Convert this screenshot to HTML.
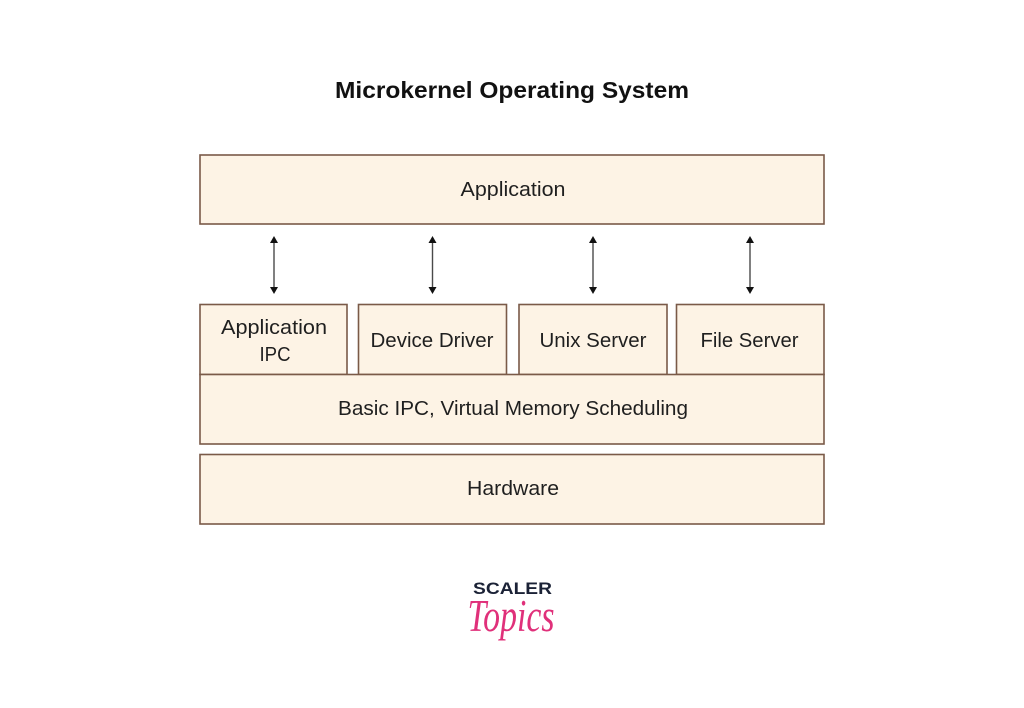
<!DOCTYPE html>
<html>
<head>
<meta charset="utf-8">
<style>
html,body{margin:0;padding:0;background:#ffffff;}
svg{display:block;}
text{font-family:"Liberation Sans",sans-serif;fill:#1f1f1f;}
</style>
</head>
<body>
<svg width="1024" height="708" viewBox="0 0 1024 708" xmlns="http://www.w3.org/2000/svg">
  <rect x="0" y="0" width="1024" height="708" fill="#ffffff"/>
  <text x="512" y="98" text-anchor="middle" font-size="23" font-weight="bold" textLength="354" lengthAdjust="spacingAndGlyphs" style="fill:#111">Microkernel Operating System</text>

  <g fill="#fdf3e5" stroke="#7a5a48" stroke-width="1.6">
    <rect x="200" y="155" width="624" height="69"/>
    <rect x="200" y="304.5" width="147" height="70"/>
    <rect x="358.5" y="304.5" width="148" height="70"/>
    <rect x="519" y="304.5" width="148" height="70"/>
    <rect x="676.5" y="304.5" width="147.5" height="70"/>
    <rect x="200" y="374.5" width="624" height="69.5"/>
    <rect x="200" y="454.5" width="624" height="69.5"/>
  </g>

  <g stroke="#4a4a4a" stroke-width="1.4">
    <line x1="274" y1="242" x2="274" y2="288"/>
    <line x1="432.5" y1="242" x2="432.5" y2="288"/>
    <line x1="593" y1="242" x2="593" y2="288"/>
    <line x1="750" y1="242" x2="750" y2="288"/>
  </g>
  <g fill="#111">
    <polygon points="274,236 270,243 278,243"/>
    <polygon points="274,294 270,287 278,287"/>
    <polygon points="432.5,236 428.5,243 436.5,243"/>
    <polygon points="432.5,294 428.5,287 436.5,287"/>
    <polygon points="593,236 589,243 597,243"/>
    <polygon points="593,294 589,287 597,287"/>
    <polygon points="750,236 746,243 754,243"/>
    <polygon points="750,294 746,287 754,287"/>
  </g>

  <g font-size="20" text-anchor="middle">
    <text x="513" y="196" textLength="105" lengthAdjust="spacingAndGlyphs">Application</text>
    <text x="274" y="334" textLength="106" lengthAdjust="spacingAndGlyphs">Application</text>
    <text x="275" y="361" textLength="31" lengthAdjust="spacingAndGlyphs">IPC</text>
    <text x="432" y="347" textLength="123" lengthAdjust="spacingAndGlyphs">Device Driver</text>
    <text x="593" y="347" textLength="107" lengthAdjust="spacingAndGlyphs">Unix Server</text>
    <text x="749.5" y="347" textLength="98" lengthAdjust="spacingAndGlyphs">File Server</text>
    <text x="513" y="415" textLength="350" lengthAdjust="spacingAndGlyphs">Basic IPC, Virtual Memory Scheduling</text>
    <text x="513" y="495" textLength="92" lengthAdjust="spacingAndGlyphs">Hardware</text>
  </g>

  <text x="512.5" y="594" text-anchor="middle" font-size="16.5" font-weight="bold" textLength="79" lengthAdjust="spacingAndGlyphs" style="fill:#1b2236">SCALER</text>
  <text x="511" y="631" text-anchor="middle" font-size="45" font-style="italic" textLength="87" lengthAdjust="spacingAndGlyphs" style="fill:#e0307a;font-family:'Liberation Serif',serif">Topics</text>
</svg>
</body>
</html>
